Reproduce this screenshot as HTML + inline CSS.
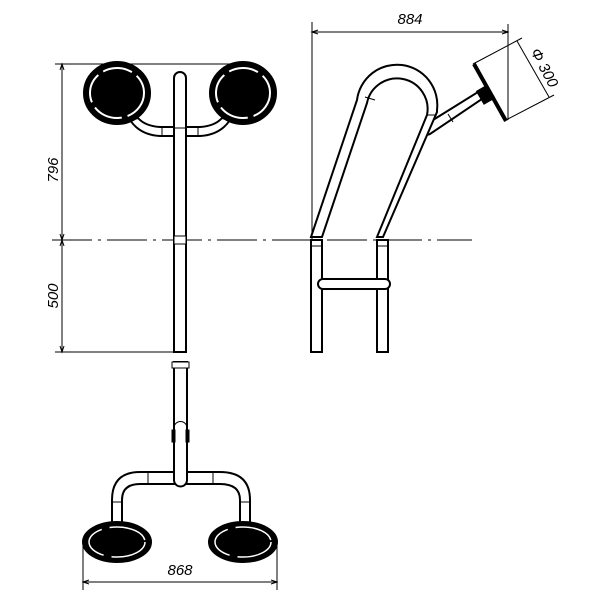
<!DOCTYPE html>
<html><head><style>html,body{margin:0;padding:0;background:#fff}svg{display:block}</style></head>
<body>
<svg width="600" height="600" viewBox="0 0 600 600" xmlns="http://www.w3.org/2000/svg" font-family="Liberation Sans, sans-serif">
<g fill="none" stroke="#000" stroke-width="1">
<!-- centerline -->
<line x1="52" y1="240" x2="472" y2="240" stroke-dasharray="40,6,3,6"/>
<!-- front view dims -->
<line x1="55" y1="64" x2="245" y2="64"/>
<line x1="55" y1="352" x2="175" y2="352"/>
<line x1="62" y1="64" x2="62" y2="352"/>
<path d="M60,70 L62,64 L64,70 M60,234 L62,240 L64,234 M60,246 L62,240 L64,246 M60,346 L62,352 L64,346"/>
</g>
<text x="0" y="0" font-size="15" font-style="italic" transform="translate(58,170) rotate(-90)" text-anchor="middle">796</text>
<text x="0" y="0" font-size="15" font-style="italic" transform="translate(58,296) rotate(-90)" text-anchor="middle">500</text>

<!-- front view -->
<g stroke="#000" stroke-width="2" fill="#fff">
<path d="M130,120 Q140,135 160,136 L174,136 L174,127 L160,127 Q145,126 138,118 Z"/>
<path d="M230,120 Q220,135 200,136 L186,136 L186,127 L200,127 Q215,126 222,118 Z"/>
<line x1="198" y1="127" x2="198" y2="136" stroke-width="1"/>
<line x1="162" y1="127" x2="162" y2="136" stroke-width="1"/>
<path d="M174,78 A6,6 0 0 1 186,78 L186,352 L174,352 Z"/>
<line x1="174" y1="128" x2="186" y2="128" stroke-width="1"/>
<rect x="174" y="236" width="12" height="8" stroke-width="1"/>
<ellipse cx="117" cy="93" rx="33" ry="31" fill="#000"/>
<ellipse cx="117" cy="93" rx="27" ry="25" fill="none" stroke="#fff" stroke-width="2" stroke-dasharray="30,6"/>
<ellipse cx="243" cy="93" rx="33" ry="31" fill="#000"/>
<ellipse cx="243" cy="93" rx="27" ry="25" fill="none" stroke="#fff" stroke-width="2" stroke-dasharray="30,6"/>
</g>

<!-- side view dims -->
<g fill="none" stroke="#000" stroke-width="1">
<line x1="312" y1="22" x2="312" y2="240"/>
<line x1="508" y1="24" x2="508" y2="120"/>
<line x1="312" y1="32" x2="508" y2="32"/>
<path d="M318,30 L312,32 L318,34 M502,30 L508,32 L502,34"/>
<line x1="473" y1="64" x2="522" y2="38"/>
<line x1="506" y1="120" x2="554" y2="95"/>
<line x1="517" y1="41" x2="549" y2="97"/>
</g>
<text x="410" y="24" font-size="15" font-style="italic" text-anchor="middle">884</text>
<text x="0" y="0" font-size="15" font-style="italic" transform="translate(540,70) rotate(62)" text-anchor="middle">Φ 300</text>

<!-- side view -->
<g stroke="#000" stroke-width="2" fill="#fff">
<path d="M425,125 L478,92 L482,99 L430,134 A5,5 0 0 1 425,125 Z"/>
<line x1="448" y1="114" x2="453" y2="122" stroke-width="1"/>
<path d="M311,237 L357,100 A37,37 0 0 1 437,110 L437,112 L383,237 L377,237 L427,115 A27,27 0 0 0 367,103 L322,237 Z"/>
<line x1="365" y1="97" x2="375" y2="100" stroke-width="1"/>
<line x1="427" y1="115" x2="436" y2="115" stroke-width="1"/>
<rect x="311" y="240" width="11" height="112"/>
<rect x="377" y="240" width="11" height="112"/>
<rect x="318" y="279" width="72" height="10" rx="5"/>
<line x1="311" y1="246" x2="322" y2="246" stroke-width="1"/>
<line x1="377" y1="246" x2="388" y2="246" stroke-width="1"/>
<line x1="474" y1="64" x2="506" y2="121" stroke-width="4"/>
<rect x="480" y="88" width="10" height="14" fill="#000" transform="rotate(-30 485 95)"/>
</g>

<!-- top view -->
<g stroke="#000" stroke-width="2" fill="#fff">
<path d="M112,530 L112,500 Q112,472 140,472 L220,472 Q250,472 250,500 L250,530 L240,530 L240,500 Q240,484 220,484 L140,484 Q122,484 122,500 L122,530 Z"/>
<line x1="148" y1="472" x2="148" y2="484" stroke-width="1"/>
<line x1="213" y1="472" x2="213" y2="484" stroke-width="1"/>
<line x1="112" y1="502" x2="122" y2="502" stroke-width="1"/>
<line x1="240" y1="502" x2="250" y2="502" stroke-width="1"/>
<path d="M174,362 L187,362 L187,480 A6.5,6.5 0 0 1 174,480 Z"/>
<rect x="172" y="362" width="17" height="6" stroke-width="1"/>
<path d="M174,428 A6.5,6.5 0 0 1 187,428" stroke-width="1" fill="none"/>
<rect x="172" y="430" width="3" height="12" fill="#000" stroke-width="1"/>
<rect x="186" y="430" width="3" height="12" fill="#000" stroke-width="1"/>
<ellipse cx="117" cy="542" rx="34" ry="20" fill="#000"/>
<ellipse cx="117" cy="542" rx="28" ry="15" fill="none" stroke="#fff" stroke-width="1.5" stroke-dasharray="40,8"/>
<ellipse cx="243" cy="542" rx="34" ry="20" fill="#000"/>
<ellipse cx="243" cy="542" rx="28" ry="15" fill="none" stroke="#fff" stroke-width="1.5" stroke-dasharray="40,8"/>
</g>
<g fill="none" stroke="#000" stroke-width="1">
<line x1="83" y1="545" x2="83" y2="590"/>
<line x1="277" y1="545" x2="277" y2="590"/>
<line x1="83" y1="582" x2="277" y2="582"/>
<path d="M89,580 L83,582 L89,584 M271,580 L277,582 L271,584"/>
</g>
<text x="180" y="575" font-size="15" font-style="italic" text-anchor="middle">868</text>
</svg>
</body></html>
